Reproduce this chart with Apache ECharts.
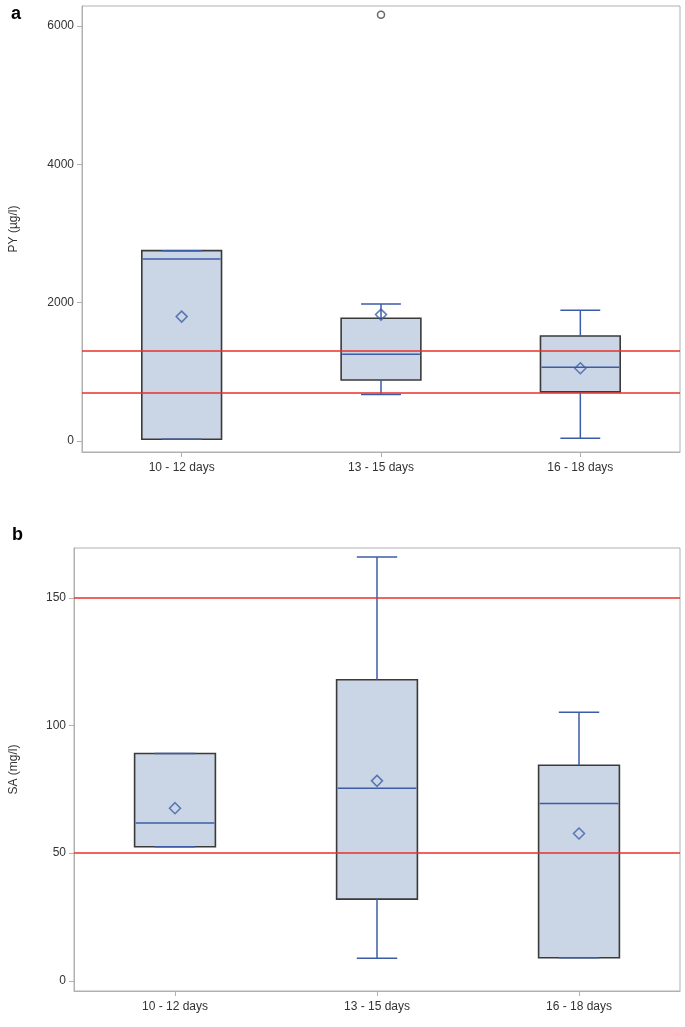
<!DOCTYPE html>
<html>
<head>
<meta charset="utf-8">
<script src="https://cdn.jsdelivr.net/npm/echarts@6/dist/echarts.min.js"></script>
<style>
html,body{margin:0;padding:0;background:#fff;}
#c{width:685px;height:1027px;}
</style>
</head>
<body>
<div id="c"></div>
<script>
// ---- data ----
var categories = ['10 - 12 days', '13 - 15 days', '16 - 18 days'];

var pyMin  = [24, 670, 39];
var pyQ1   = [24, 882, 709];
var pyMed  = [2632, 1254, 1066];
var pyQ3   = [2752, 1774, 1518];
var pyMax  = [2752, 1981, 1890];
var pyMean = [1798, 1827, 1051];
var pyOutliers = [[1, 6165]];
var pyRefLines = [700, 1300];
var pyTicks = [0, 2000, 4000, 6000];

var saMin  = [52.5, 8.8, 9.0];
var saQ1   = [52.5, 32.0, 9.0];
var saMed  = [61.8, 75.4, 69.4];
var saQ3   = [89.0, 117.9, 84.4];
var saMax  = [89.0, 166.0, 105.2];
var saMean = [67.6, 78.3, 57.7];
var saRefLines = [50, 150];
var saTicks = [0, 50, 100, 150];

// ---- styles ----
var FONT = 'Liberation Sans, Arial, sans-serif';
var BLUE = '#3c5da6';
var FILL = '#cad5e6';
var EDGE = '#3a3a3a';
var RED = '#e8302c';
var FRAME = '#b0b0b0';

function boxRows(mn, q1, md, q3, mx) {
  return categories.map(function (c, i) { return [i, mn[i], q1[i], md[i], q3[i], mx[i]]; });
}

function renderBox(params, api) {
  var idx = api.value(0);
  var pMin = api.coord([idx, api.value(1)]);
  var pQ1 = api.coord([idx, api.value(2)]);
  var pMed = api.coord([idx, api.value(3)]);
  var pQ3 = api.coord([idx, api.value(4)]);
  var pMax = api.coord([idx, api.value(5)]);
  var bw = api.size([1, 0])[0] * 0.4;
  var cw = bw * 0.5;
  var x = pMed[0];
  var ws = { stroke: BLUE, lineWidth: 1.5 };
  return {
    type: 'group',
    children: [
      { type: 'rect', shape: { x: x - bw / 2, y: pQ3[1], width: bw, height: pQ1[1] - pQ3[1] },
        style: { fill: FILL, stroke: EDGE, lineWidth: 1.6 } },
      { type: 'line', shape: { x1: x, y1: pQ3[1], x2: x, y2: pMax[1] }, style: ws },
      { type: 'line', shape: { x1: x, y1: pQ1[1], x2: x, y2: pMin[1] }, style: ws },
      { type: 'line', shape: { x1: x - cw / 2, y1: pMax[1], x2: x + cw / 2, y2: pMax[1] }, style: ws },
      { type: 'line', shape: { x1: x - cw / 2, y1: pMin[1], x2: x + cw / 2, y2: pMin[1] }, style: ws },
      { type: 'line', shape: { x1: x - bw / 2 + 1, y1: pMed[1], x2: x + bw / 2 - 1, y2: pMed[1] }, style: ws }
    ]
  };
}

function refLineSeries(axisIdx, values) {
  return {
    type: 'line', xAxisIndex: axisIdx, yAxisIndex: axisIdx, data: [], z: 10,
    markLine: {
      silent: true, symbol: 'none', animation: false,
      label: { show: false },
      lineStyle: { color: RED, width: 1.5, type: 'solid' },
      data: values.map(function (v) { return { yAxis: v }; })
    }
  };
}

function yAxisCfg(gridIdx, min, max, ticks, name, gap) {
  return {
    type: 'value', gridIndex: gridIdx, min: min, max: max,
    name: name, nameLocation: 'middle', nameGap: gap, nameRotate: 90,
    nameTextStyle: { fontFamily: FONT, fontSize: 12, color: '#333' },
    axisLine: { show: true, onZero: false, lineStyle: { color: FRAME } },
    axisTick: { show: true, length: 5, lineStyle: { color: FRAME }, customValues: ticks },
    axisLabel: { fontFamily: FONT, fontSize: 12, color: '#333', margin: 8, customValues: ticks,
      formatter: function (v) { return String(v); } },
    splitLine: { show: false }
  };
}

function xAxisCfg(gridIdx) {
  return {
    type: 'category', gridIndex: gridIdx, data: categories, boundaryGap: true,
    axisLine: { show: true, onZero: false, lineStyle: { color: FRAME } },
    axisTick: { show: true, alignWithLabel: true, length: 5, lineStyle: { color: FRAME } },
    axisLabel: { fontFamily: FONT, fontSize: 12, color: '#333', margin: 10 },
    splitLine: { show: false }
  };
}

var chart = echarts.init(document.getElementById('c'), null, { renderer: 'canvas' });
chart.setOption({
  animation: false,
  backgroundColor: '#fff',
  grid: [
    { left: 80, right: 5, top: 6, height: 446, show: true, borderColor: FRAME, borderWidth: 1 },
    { left: 70, right: 5, top: 548, height: 443, show: true, borderColor: FRAME, borderWidth: 1 }
  ],
  xAxis: [xAxisCfg(0), xAxisCfg(1)],
  yAxis: [
    yAxisCfg(0, -160, 6290, pyTicks, 'PY (\u00b5g/l)', 62),
    yAxisCfg(1, -4, 169.5, saTicks, 'SA (mg/l)', 54)
  ],
  graphic: [
    { type: 'text', left: 11, top: 5, style: { text: 'a', font: 'bold 18px ' + FONT, fill: '#000' } },
    { type: 'text', left: 12, top: 526, style: { text: 'b', font: 'bold 18px ' + FONT, fill: '#000' } }
  ],
  series: [
    { type: 'custom', xAxisIndex: 0, yAxisIndex: 0, renderItem: renderBox,
      encode: { x: 0, y: [1, 2, 3, 4, 5] }, data: boxRows(pyMin, pyQ1, pyMed, pyQ3, pyMax), z: 2 },
    { type: 'scatter', xAxisIndex: 0, yAxisIndex: 0, symbol: 'diamond', symbolSize: 11, z: 5,
      itemStyle: { color: 'rgba(0,0,0,0)', borderColor: BLUE, borderWidth: 1.5 },
      data: pyMean.map(function (v, i) { return [i, v]; }) },
    { type: 'scatter', xAxisIndex: 0, yAxisIndex: 0, symbol: 'circle', symbolSize: 7, z: 5,
      itemStyle: { color: 'rgba(0,0,0,0)', borderColor: '#444', borderWidth: 1.5 },
      data: pyOutliers },
    refLineSeries(0, pyRefLines),

    { type: 'custom', xAxisIndex: 1, yAxisIndex: 1, renderItem: renderBox,
      encode: { x: 0, y: [1, 2, 3, 4, 5] }, data: boxRows(saMin, saQ1, saMed, saQ3, saMax), z: 2 },
    { type: 'scatter', xAxisIndex: 1, yAxisIndex: 1, symbol: 'diamond', symbolSize: 11, z: 5,
      itemStyle: { color: 'rgba(0,0,0,0)', borderColor: BLUE, borderWidth: 1.5 },
      data: saMean.map(function (v, i) { return [i, v]; }) },
    refLineSeries(1, saRefLines)
  ]
});
</script>
</body>
</html>
